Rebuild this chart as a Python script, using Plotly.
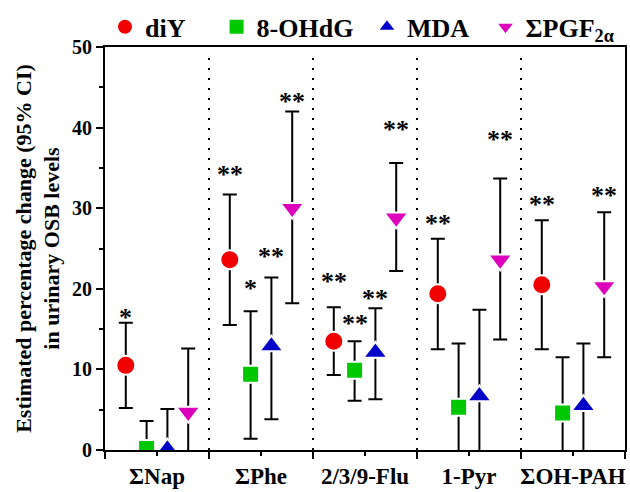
import plotly.graph_objects as go

categories = ["ΣNap", "ΣPhe", "2/3/9-Flu", "1-Pyr", "ΣOH-PAH"]

diY = [10.5, 23.6, 13.5, 19.4, 20.5]
diY_lo = [5.2, 15.5, 9.3, 12.5, 12.5]
diY_hi = [15.8, 31.7, 17.7, 26.2, 28.5]

ohdg = [0.2, 9.4, 9.9, 5.3, 4.6]
ohdg_lo = [-3.0, 1.4, 6.1, -2.0, -2.0]
ohdg_hi = [3.6, 17.2, 13.5, 13.2, 11.5]

mda = [0.1, 12.9, 12.1, 6.7, 5.5]
mda_lo = [-4.5, 3.8, 6.3, -3.5, -2.5]
mda_hi = [5.1, 21.4, 17.6, 17.4, 13.2]

pgf = [4.7, 30.0, 28.8, 23.6, 20.3]
pgf_lo = [-3.0, 18.2, 22.2, 13.7, 11.5]
pgf_hi = [12.6, 42.0, 35.6, 33.7, 29.5]

# significance marks and their heights
diY_sig = ["*", "**", "**", "**", "**"]
diY_sig_y = [17.3, 35.0, 21.8, 29.0, 31.3]
ohdg_sig = ["", "*", "**", "", ""]
ohdg_sig_y = [None, 20.9, 16.6, None, None]
mda_sig = ["", "**", "**", "", ""]
mda_sig_y = [None, 24.9, 19.7, None, None]
pgf_sig = ["", "**", "**", "**", "**"]
pgf_sig_y = [None, 44.1, 40.6, 39.4, 32.5]

FONT = "Liberation Serif, Times New Roman, serif"

series = [
    ("diY", diY, diY_lo, diY_hi, diY_sig, diY_sig_y, "circle", "#f00000", 19, -0.3, "legend", 0.0),
    ("8-OHdG", ohdg, ohdg_lo, ohdg_hi, ohdg_sig, ohdg_sig_y, "square", "#00c800", 17, -0.1, "legend2", 0.2146),
    ("MDA", mda, mda_lo, mda_hi, mda_sig, mda_sig_y, "triangle-up", "#0000c8", 21, 0.1, "legend3", 0.5038),
    ("ΣPGF<sub>2α</sub>", pgf, pgf_lo, pgf_hi, pgf_sig, pgf_sig_y, "triangle-down", "#dd00bb", 21, 0.3, "legend4", 0.7318),
]

fig = go.Figure()
idx = list(range(len(categories)))
annotations = []
legends = {}
for name, v, lo, hi, sig, sig_y, sym, col, sz, off, leg, legx in series:
    xs = [i + off for i in idx]
    fig.add_trace(go.Scatter(
        x=xs, y=v, mode="markers", name=name, legend=leg,
        marker=dict(symbol=sym, color=col, size=sz, line=dict(color="white", width=2)),
        error_y=dict(type="data", symmetric=False,
                     array=[h - m for h, m in zip(hi, v)],
                     arrayminus=[m - l for m, l in zip(v, lo)],
                     color="black", thickness=2, width=7),
        cliponaxis=True,
    ))
    for x, y, s in zip(xs, sig_y, sig):
        if s:
            annotations.append(dict(
                x=x, y=y, xref="x", yref="y", text=s, showarrow=False,
                yshift=-7, font=dict(family=FONT, size=26, color="black"),
            ))
    legends[leg] = dict(
        orientation="h", x=legx, xanchor="left", y=1.05, yanchor="middle",
        font=dict(family=FONT, size=26, weight="bold", color="black"),
        bgcolor="rgba(0,0,0,0)", itemwidth=30,
    )

for b in [0.5, 1.5, 2.5, 3.5]:
    fig.add_shape(type="line", x0=b, x1=b, y0=0, y1=49.3, xref="x", yref="y",
                  line=dict(color="black", width=2, dash="2px,8px"))

fig.update_layout(
    width=630, height=492,
    margin=dict(l=105, r=3, t=46, b=41),
    paper_bgcolor="white", plot_bgcolor="white",
    font=dict(family=FONT, size=19, color="black", weight="bold"),
    showlegend=True,
    annotations=annotations,
    **legends,
)
fig.update_xaxes(
    range=[-0.5, 4.5], tickmode="array", tickvals=idx, ticktext=categories,
    showline=True, linecolor="black", linewidth=2, mirror=True,
    ticks="outside", ticklen=4, tickwidth=2, tickcolor="black",
    minor=dict(tick0=-0.5, dtick=1, ticks="outside", ticklen=7, tickwidth=2, tickcolor="black"),
    showgrid=False, zeroline=False,
    tickfont=dict(family=FONT, size=23, weight="bold"),
)
fig.update_yaxes(
    range=[0, 50], dtick=10, tick0=0,
    showline=True, linecolor="black", linewidth=2, mirror=True,
    ticks="outside", ticklen=7, tickwidth=2, tickcolor="black",
    minor=dict(dtick=5, ticks="outside", ticklen=4, tickwidth=2, tickcolor="black"),
    showgrid=False, zeroline=False,
    tickfont=dict(family=FONT, size=20, weight="bold"),
    title=dict(text="Estimated percentage change (95% CI)<br>in urinary OSB levels",
               font=dict(family=FONT, size=22, weight="bold"), standoff=6),
)

fig.write_html("out.html")
